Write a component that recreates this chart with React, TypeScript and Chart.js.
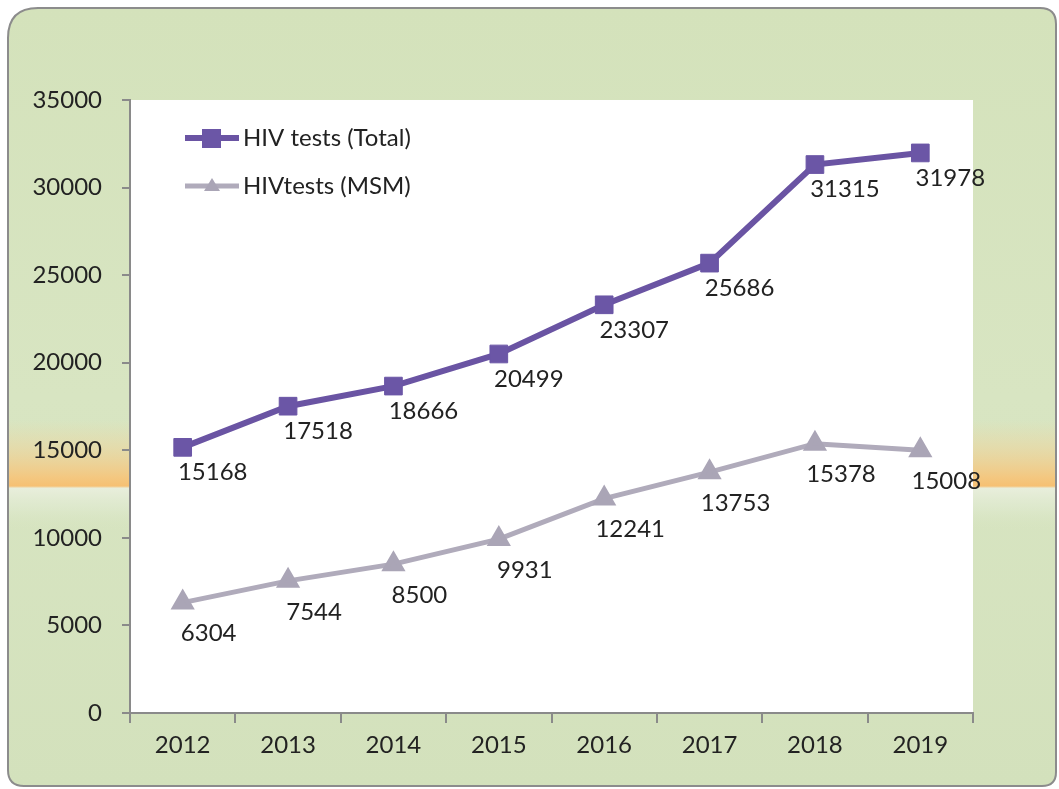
import React, { useEffect, useRef } from "react";
import { Chart, registerables } from "chart.js";

Chart.register(...registerables);

const years = ["2012", "2013", "2014", "2015", "2016", "2017", "2018", "2019"];
const totalTests = [15168, 17518, 18666, 20499, 23307, 25686, 31315, 31978];
const msmTests = [6304, 7544, 8500, 9931, 12241, 13753, 15378, 15008];
const seriesNames = ["HIV tests (Total)", "HIVtests (MSM)"];
const yMin = 0;
const yMax = 35000;
const yStep = 5000;

const FONT = "Lato, 'Open Sans', sans-serif";
const PURPLE = "#6a54a3";
const GREY = "#b0abbb";

const backgroundPlugin = {
  id: "cardBg",
  beforeDraw(chart: any) {
    const { ctx, chartArea } = chart;
    ctx.save();
    const x0 = 8, y0 = 8, x1 = 1056, y1 = 786;
    ctx.beginPath();
    const rTL = 30, rTR = 16, rBR = 14, rBL = 16;
    ctx.moveTo(x0 + rTL, y0);
    ctx.lineTo(x1 - rTR, y0);
    ctx.quadraticCurveTo(x1, y0, x1, y0 + rTR);
    ctx.lineTo(x1, y1 - rBR);
    ctx.quadraticCurveTo(x1, y1, x1 - rBR, y1);
    ctx.lineTo(x0 + rBL, y1);
    ctx.quadraticCurveTo(x0, y1, x0, y1 - rBL);
    ctx.lineTo(x0, y0 + rTL);
    ctx.quadraticCurveTo(x0, y0, x0 + rTL, y0);
    ctx.closePath();
    const g = ctx.createLinearGradient(0, y0, 0, y1);
    g.addColorStop(0, "#d4e2bb");
    g.addColorStop(0.5, "#d8e5c2");
    g.addColorStop(1, "#d3e1bc");
    ctx.fillStyle = g;
    ctx.fill();
    ctx.save();
    ctx.clip();
    const b = ctx.createLinearGradient(0, 420, 0, 530);
    b.addColorStop(0, "rgba(240,215,160,0)");
    b.addColorStop(0.25, "rgba(240,210,150,0.5)");
    b.addColorStop(0.52, "rgba(245,198,125,0.95)");
    b.addColorStop(0.6, "rgba(246,192,115,1)");
    b.addColorStop(0.62, "rgba(232,238,220,1)");
    b.addColorStop(0.8, "rgba(224,234,208,0.7)");
    b.addColorStop(1, "rgba(216,229,194,0)");
    ctx.fillStyle = b;
    ctx.fillRect(x0, 420, x1 - x0, 110);
    ctx.restore();
    ctx.lineWidth = 2;
    ctx.strokeStyle = "#8c8c8c";
    ctx.stroke();
    ctx.fillStyle = "#ffffff";
    ctx.fillRect(chartArea.left, chartArea.top, chartArea.right - chartArea.left, chartArea.bottom - chartArea.top);
    ctx.restore();
  },
};

const labelsPlugin = {
  id: "valueLabels",
  afterDatasetsDraw(chart: any) {
    const { ctx } = chart;
    ctx.save();
    ctx.font = `24px ${FONT}`;
    ctx.fillStyle = "#222222";
    ctx.textAlign = "center";
    ctx.textBaseline = "middle";
    chart.data.datasets.forEach((ds: any, di: number) => {
      const meta = chart.getDatasetMeta(di);
      const dx = di === 0 ? 30 : 26;
      const dy = di === 0 ? 25 : 31;
      meta.data.forEach((pt: any, i: number) => {
        ctx.fillText(String(ds.data[i]), pt.x + dx, pt.y + dy);
      });
    });
    ctx.restore();
  },
};

const legendPlugin = {
  id: "innerLegend",
  afterDraw(chart: any) {
    const { ctx, chartArea } = chart;
    ctx.save();
    const x = chartArea.left + 55;
    const rows = [chartArea.top + 38, chartArea.top + 86];
    chart.data.datasets.forEach((ds: any, di: number) => {
      const y = rows[di];
      ctx.strokeStyle = ds.borderColor;
      ctx.lineWidth = ds.borderWidth;
      ctx.beginPath();
      ctx.moveTo(x, y);
      ctx.lineTo(x + 54, y);
      ctx.stroke();
      ctx.fillStyle = ds.pointBackgroundColor;
      if (di === 0) {
        ctx.fillRect(x + 17, y - 9, 19, 19);
      } else {
        ctx.beginPath();
        ctx.moveTo(x + 27, y - 8);
        ctx.lineTo(x + 35, y + 5);
        ctx.lineTo(x + 19, y + 5);
        ctx.closePath();
        ctx.fill();
      }
      ctx.font = `24px ${FONT}`;
      ctx.fillStyle = "#222222";
      ctx.textAlign = "left";
      ctx.textBaseline = "middle";
      ctx.fillText(ds.label, x + 58, y);
    });
    ctx.restore();
  },
};

export default function App() {
  const ref = useRef<HTMLCanvasElement>(null);
  useEffect(() => {
    if (!ref.current) return;
    const chart = new Chart(ref.current, {
      type: "line",
      data: {
        labels: years,
        datasets: [
          {
            label: seriesNames[0],
            data: totalTests,
            borderColor: PURPLE,
            backgroundColor: PURPLE,
            pointBackgroundColor: "#6b56a6",
            pointBorderColor: "#6b56a6",
            borderWidth: 6,
            pointStyle: "rect",
            pointRadius: 12.5,
            pointHoverRadius: 12.5,
            pointBorderWidth: 1,
            tension: 0,
          },
          {
            label: seriesNames[1],
            data: msmTests,
            borderColor: GREY,
            backgroundColor: GREY,
            pointBackgroundColor: "#aaa5b6",
            pointBorderColor: "#aaa5b6",
            borderWidth: 5,
            pointStyle: "triangle",
            pointRadius: 9,
            pointHoverRadius: 9,
            tension: 0,
          },
        ],
      },
      options: {
        animation: false,
        responsive: false,
        layout: { padding: { left: 10, top: 100, right: 86, bottom: 0 } },
        plugins: {
          legend: { display: false },
          tooltip: { enabled: false },
        },
        scales: {
          x: {
            type: "category",
            offset: true,
            afterFit: (s: any) => {
              s.height = 76;
            },
            grid: {
              offset: true,
              drawOnChartArea: false,
              drawTicks: true,
              tickLength: 10,
              color: "#8a8a8a",
              lineWidth: 2,
            },
            border: { color: "#8a8a8a", width: 2 },
            ticks: {
              color: "#222222",
              font: { family: FONT, size: 24 },
              padding: 8,
            },
          },
          y: {
            min: yMin,
            max: yMax,
            afterFit: (s: any) => {
              s.width = 120;
            },
            grid: {
              drawOnChartArea: false,
              drawTicks: true,
              tickLength: 8,
              color: "#8a8a8a",
              lineWidth: 2,
            },
            border: { color: "#8a8a8a", width: 2 },
            ticks: {
              stepSize: yStep,
              color: "#222222",
              font: { family: FONT, size: 24 },
              padding: 20,
              callback: (v: any) => String(v),
            },
          },
        },
      },
      plugins: [backgroundPlugin, labelsPlugin, legendPlugin],
    });
    return () => chart.destroy();
  }, []);
  return (
    <div style={{ position: "fixed", left: 0, top: 0, width: 1059, height: 789 }}>
      <canvas ref={ref} width={1059} height={789} style={{ width: 1059, height: 789, display: "block" }} />
    </div>
  );
}
